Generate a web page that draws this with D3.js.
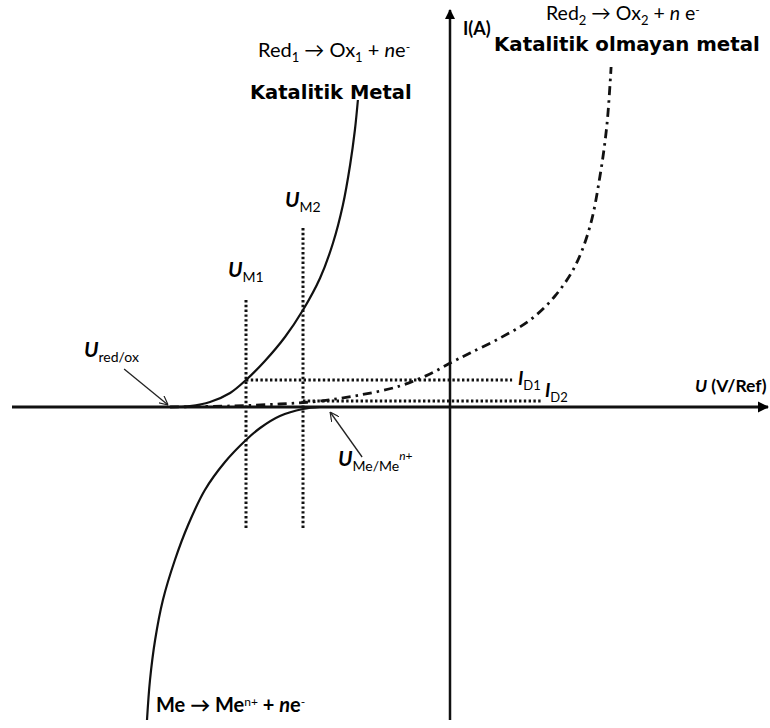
<!DOCTYPE html>
<html>
<head>
<meta charset="utf-8">
<script src="https://cdn.jsdelivr.net/npm/d3@7/dist/d3.min.js"></script>
<style>
  html, body { margin: 0; padding: 0; background: #fff; }
  svg { display: block; }
  .lbl { font-family: Lato, "Open Sans", sans-serif; fill: #000; }
  .bold { font-family: "DejaVu Sans", Verdana, sans-serif; font-weight: bold; fill: #000; }
</style>
</head>
<body>
<svg id="chart" width="770" height="728"></svg>
<script>
// Potential U (V/Ref) vs current I (mA), schematic polarisation curves

// Red1 -> Ox1 + ne-  on the catalytic metal (solid, anodic branch)
const redOx1Curve = [
  [-0.933, 0], [-0.867, 0.01], [-0.80, 0.05], [-0.733, 0.14], [-0.68, 0.27],
  [-0.617, 0.46], [-0.55, 0.70], [-0.49, 0.97], [-0.433, 1.29], [-0.39, 1.64],
  [-0.357, 2.02], [-0.333, 2.42], [-0.317, 2.77], [-0.307, 3.07]
];

// Me -> Me^n+ + ne-  (solid, cathodic side)
const metalCurve = [
  [-0.433, 0], [-0.49, -0.02], [-0.567, -0.09], [-0.633, -0.21], [-0.68, -0.33],
  [-0.75, -0.55], [-0.817, -0.83], [-0.873, -1.18], [-0.917, -1.53], [-0.957, -1.93],
  [-0.983, -2.33], [-1.0, -2.73], [-1.01, -3.13]
];

// Red2 -> Ox2 + ne-  on the non-catalytic metal (dash-dot)
const redOx2Curve = [
  [-0.933, 0], [-0.733, 0.01], [-0.567, 0.03], [-0.433, 0.06], [-0.30, 0.12],
  [-0.167, 0.21], [-0.067, 0.33], [0.007, 0.45], [0.067, 0.54], [0.167, 0.69],
  [0.267, 0.87], [0.35, 1.11], [0.417, 1.41], [0.467, 1.81], [0.50, 2.31],
  [0.523, 2.82], [0.537, 3.40]
];

// Characteristic potentials and currents
const potentials = { redOx: -0.933, m1: -0.68, m2: -0.49, me: -0.433 };
const currents = { d1: 0.27, d2: 0.06 };

// Guide lines: [u1, i1, u2, i2]
const guideLines = [
  [potentials.m1, 1.07, potentials.m1, -1.23],
  [potentials.m2, 1.79, potentials.m2, -1.23],
  [potentials.m1, currents.d1, 0.207, currents.d1],
  [potentials.m2, currents.d2, 0.31, currents.d2]
];

const svg = d3.select("#chart");
const x = d3.scaleLinear().domain([-1.46, 1.06]).range([12, 768]);
const y = d3.scaleLinear().domain([-3.13, 3.97]).range([720, 10]);

// arrow heads
const defs = svg.append("defs");
defs.append("marker").attr("id", "axArrow").attr("viewBox", "0 0 10 10")
  .attr("refX", 9).attr("refY", 5).attr("markerWidth", 4).attr("markerHeight", 4)
  .attr("markerUnits", "strokeWidth").attr("orient", "auto")
  .append("path").attr("d", "M0,0 L10,5 L0,10 z").attr("fill", "#000");
defs.append("marker").attr("id", "openArrow").attr("viewBox", "0 0 10 10")
  .attr("refX", 10).attr("refY", 5).attr("markerWidth", 9).attr("markerHeight", 9)
  .attr("markerUnits", "userSpaceOnUse").attr("orient", "auto")
  .append("path").attr("d", "M0,0 L10,5 L0,10").attr("fill", "none")
  .attr("stroke", "#222").attr("stroke-width", 1.3);

// axes through the origin
const xAxis = d3.axisBottom(x).tickValues([]).tickSizeOuter(0);
const yAxis = d3.axisLeft(y).tickValues([]).tickSizeOuter(0);
const gx = svg.append("g").attr("transform", `translate(0,${y(0)})`).call(xAxis);
const gy = svg.append("g").attr("transform", `translate(${x(0)},0)`).call(yAxis);
gx.select(".domain").attr("stroke", "#111").attr("stroke-width", 2.8)
  .attr("d", `M${x.range()[0]},0H${x.range()[1]}`).attr("marker-end", "url(#axArrow)");
gy.select(".domain").attr("stroke", "#111").attr("stroke-width", 2.5)
  .attr("d", `M0,${y.range()[0]}V${y.range()[1]}`).attr("marker-end", "url(#axArrow)");

// dotted guide lines
svg.append("g").selectAll("line").data(guideLines).join("line")
  .attr("x1", d => x(d[0])).attr("y1", d => y(d[1]))
  .attr("x2", d => x(d[2])).attr("y2", d => y(d[3]))
  .attr("stroke", "#111").attr("stroke-width", 3).attr("stroke-dasharray", "2.4 2.4");

const line = d3.line().x(d => x(d[0])).y(d => y(d[1])).curve(d3.curveCatmullRom.alpha(0.5));

svg.append("path").datum(redOx2Curve).attr("d", line).attr("fill", "none")
  .attr("stroke", "#111").attr("stroke-width", 2.8)
  .attr("stroke-dasharray", "9 5 2.5 5");
svg.append("path").datum(redOx1Curve).attr("d", line).attr("fill", "none")
  .attr("stroke", "#111").attr("stroke-width", 2.2);
svg.append("path").datum(metalCurve).attr("d", line).attr("fill", "none")
  .attr("stroke", "#111").attr("stroke-width", 2.2);

// pointer arrows
svg.append("line").attr("x1", x(potentials.redOx) - 46).attr("y1", y(0) - 38)
  .attr("x2", x(potentials.redOx) - 2).attr("y2", y(0) - 2)
  .attr("stroke", "#222").attr("stroke-width", 1.3).attr("marker-end", "url(#openArrow)");
svg.append("line").attr("x1", x(potentials.me) + 42).attr("y1", y(0) + 50)
  .attr("x2", x(potentials.me) + 10).attr("y2", y(0) + 5)
  .attr("stroke", "#222").attr("stroke-width", 1.3).attr("marker-end", "url(#openArrow)");

// text helpers
function richText(px, py, parts, cls, size) {
  const t = svg.append("text").attr("class", cls).attr("x", px).attr("y", py)
    .attr("font-size", size);
  let shift = 0;
  parts.forEach(p => {
    const s = t.append("tspan").text(p.t);
    const target = p.sub ? 5 : p.sup ? -6 : 0;
    s.attr("dy", target - shift);
    shift = target;
    if (p.size) s.attr("font-size", p.size);
    if (p.i) s.attr("font-style", "italic");
    if (p.b) s.attr("font-weight", "bold");
  });
  return t;
}

// reaction labels
richText(258, 57, [
  { t: "Red" }, { t: "1", sub: true, size: 13 }, { t: " \u2192 Ox" },
  { t: "1", sub: true, size: 13 }, { t: " + " }, { t: "n", i: true }, { t: "e" },
  { t: "-", sup: true, size: 12 }
], "lbl", 20);
svg.append("text").attr("class", "bold").attr("x", 250).attr("y", 99)
  .attr("font-size", 19.5).text("Katalitik Metal");

richText(546, 20, [
  { t: "Red" }, { t: "2", sub: true, size: 13 }, { t: " \u2192 Ox" },
  { t: "2", sub: true, size: 13 }, { t: " + " }, { t: "n", i: true }, { t: " e" },
  { t: "-", sup: true, size: 12 }
], "lbl", 19.5);
svg.append("text").attr("class", "bold").attr("x", 494).attr("y", 51)
  .attr("font-size", 19.8).text("Katalitik olmayan metal");

richText(x(0) + 13, 35, [{ t: "I(A)", b: true }], "lbl", 18);

richText(156, 712, [
  { t: "Me  \u2192 Me", b: true }, { t: "n+", sup: true, size: 12 },
  { t: " + ", b: true }, { t: "n", i: true, b: true }, { t: "e", b: true },
  { t: "-", sup: true, size: 12 }
], "lbl", 20);

// axis title
richText(695, 392, [{ t: "U", i: true, b: true }, { t: " (V/Ref)", b: true }], "lbl", 17.5);

// potential labels
richText(x(potentials.m1) - 18, 277, [
  { t: "U", i: true, b: true }, { t: "M1", sub: true, size: 14 }
], "lbl", 21);
richText(x(potentials.m2) - 18, 207, [
  { t: "U", i: true, b: true }, { t: "M2", sub: true, size: 14 }
], "lbl", 21);
richText(84, 357, [
  { t: "U", i: true, b: true }, { t: "red/ox", sub: true, size: 14 }
], "lbl", 21);
richText(338, 466, [
  { t: "U", i: true, b: true }, { t: "Me/Me", sub: true, size: 14 },
  { t: "n", sup: true, size: 12, i: true }, { t: "+", sup: true, size: 12 }
], "lbl", 21);

// current labels
richText(518, y(currents.d1) + 5, [
  { t: "I", i: true, b: true }, { t: "D1", sub: true, size: 13 }
], "lbl", 19);
richText(545, y(currents.d2) - 4, [
  { t: "I", i: true, b: true }, { t: "D2", sub: true, size: 13 }
], "lbl", 19);
</script>
</body>
</html>
